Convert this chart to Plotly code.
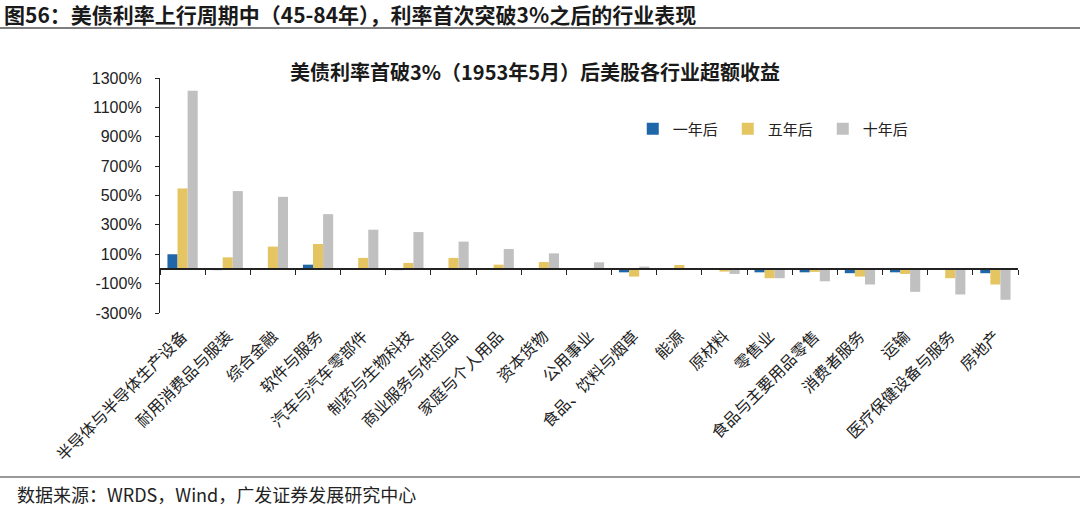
import plotly.graph_objects as go

categories = ["半导体与半导体生产设备", "耐用消费品与服装", "综合金融", "软件与服务",
              "汽车与汽车零部件", "制药与生物科技", "商业服务与供应品", "家庭与个人用品",
              "资本货物", "公用事业", "食品、饮料与烟草", "能源", "原材料", "零售业",
              "食品与主要用品零售", "消费者服务", "运输", "医疗保健设备与服务", "房地产"]
one_year = [100, -8, 0, 29, 0, -8, 0, 0, 0, 0, -23, 0, -3, -23, -23, -29, -23, 0, -29]
five_year = [548, 79, 152, 170, 75, 41, 75, 29, 47, 0, -52, 27, -18, -63, -20, -52, -34, -63, -106]
ten_year = [1213, 530, 491, 373, 267, 251, 186, 136, 106, 45, 16, 0, -34, -63, -84, -106, -156, -174, -210]
series_names = ["一年后", "五年后", "十年后"]
colors = ["#1F67A8", "#E5C561", "#C0C0C0"]
y_ticks = [-300, -100, 100, 300, 500, 700, 900, 1100, 1300]

header = "图56：美债利率上行周期中（45-84年），利率首次突破3%之后的行业表现"
chart_title = "美债利率首破3%（1953年5月）后美股各行业超额收益"
source = "数据来源：WRDS，Wind，广发证券发展研究中心"

CJK = "Noto Sans CJK SC"
LAT = "Liberation Sans, Arial, Noto Sans CJK SC"

fig = go.Figure()
for name, vals, c in zip(series_names, [one_year, five_year, ten_year], colors):
    fig.add_trace(go.Bar(x=categories, y=vals, name=name, marker=dict(color=c, line=dict(width=0))))

y_min, y_max = -300, 1300
zero_pos = (0 - y_min) / (y_max - y_min)

fig.update_layout(
    width=1080, height=510,
    margin=dict(l=160, r=62, t=78, b=197),
    paper_bgcolor="white", plot_bgcolor="white",
    barmode="group", bargap=0.33, bargroupgap=0,
    font=dict(family=CJK, color="#222"),
    showlegend=True,
    legend=dict(orientation="h", x=0.551, y=0.783, xanchor="left", yanchor="middle",
                font=dict(family=CJK, size=15, color="#222"),
                entrywidth=50, entrywidthmode="pixels", bgcolor="rgba(0,0,0,0)"),
    xaxis=dict(type="category", categoryorder="array", categoryarray=categories,
               range=[-0.5, len(categories) - 0.5], automargin=False,
               anchor="free", position=zero_pos,
               showline=True, linecolor="#222", linewidth=1.5,
               ticks="outside", tickson="boundaries", ticklen=5, tickwidth=1.3, tickcolor="#222",
               showticklabels=False, showgrid=False, zeroline=False, fixedrange=True),
    xaxis2=dict(type="linear", overlaying="x", anchor="y", side="bottom", automargin=False,
                range=[-0.5, len(categories) - 0.5],
                tickmode="array", tickvals=list(range(len(categories))), ticktext=categories,
                tickangle=-45, tickfont=dict(family=CJK, size=16, color="#222"),
                ticklabelstandoff=10,
                showline=False, ticks="", showgrid=False, zeroline=False),
    yaxis=dict(range=[y_min, y_max], tickmode="array", tickvals=y_ticks, automargin=False,
               ticktext=[f"{v}%" for v in y_ticks],
               tickfont=dict(family=LAT, size=16, color="#222"),
               showline=True, linecolor="#222", linewidth=1.3,
               ticks="outside", ticklen=4, tickcolor="#222", ticklabelstandoff=10,
               showgrid=False, zeroline=False),
)

# invisible trace to activate xaxis2
fig.add_trace(go.Scatter(x=[0], y=[0], xaxis="x2", mode="markers",
                         marker=dict(opacity=0), showlegend=False, hoverinfo="skip"))

fig.add_annotation(text=f"<b>{header}</b>", xref="paper", yref="paper", x=-158/858, y=1 + (78-14)/235,
                   xanchor="left", yanchor="middle", showarrow=False,
                   font=dict(family=CJK, size=21, color="#1a1a1a"))
fig.add_annotation(text=f"<b>{chart_title}</b>", xref="paper", yref="paper", x=(535-160)/858, y=1 + (78-71)/235,
                   xanchor="center", yanchor="middle", showarrow=False,
                   font=dict(family=CJK, size=20, color="#1a1a1a"))
fig.add_annotation(text=source, xref="paper", yref="paper", x=(15-160)/858, y=-(494-313)/235,
                   xanchor="left", yanchor="middle", showarrow=False,
                   font=dict(family=CJK, size=18, color="#222"))

fig.add_shape(type="line", xref="paper", yref="paper", x0=-160/858, x1=(1080-160)/858,
              y0=1 + (78-28)/235, y1=1 + (78-28)/235, line=dict(color="#555", width=1.5))
fig.add_shape(type="line", xref="paper", yref="paper", x0=-160/858, x1=(1080-160)/858,
              y0=-(477-313)/235, y1=-(477-313)/235, line=dict(color="#777", width=1.5))

fig.write_html("out.html", config={"displayModeBar": False},
               post_script="document.body.style.margin='0';document.body.style.overflow='hidden';")
